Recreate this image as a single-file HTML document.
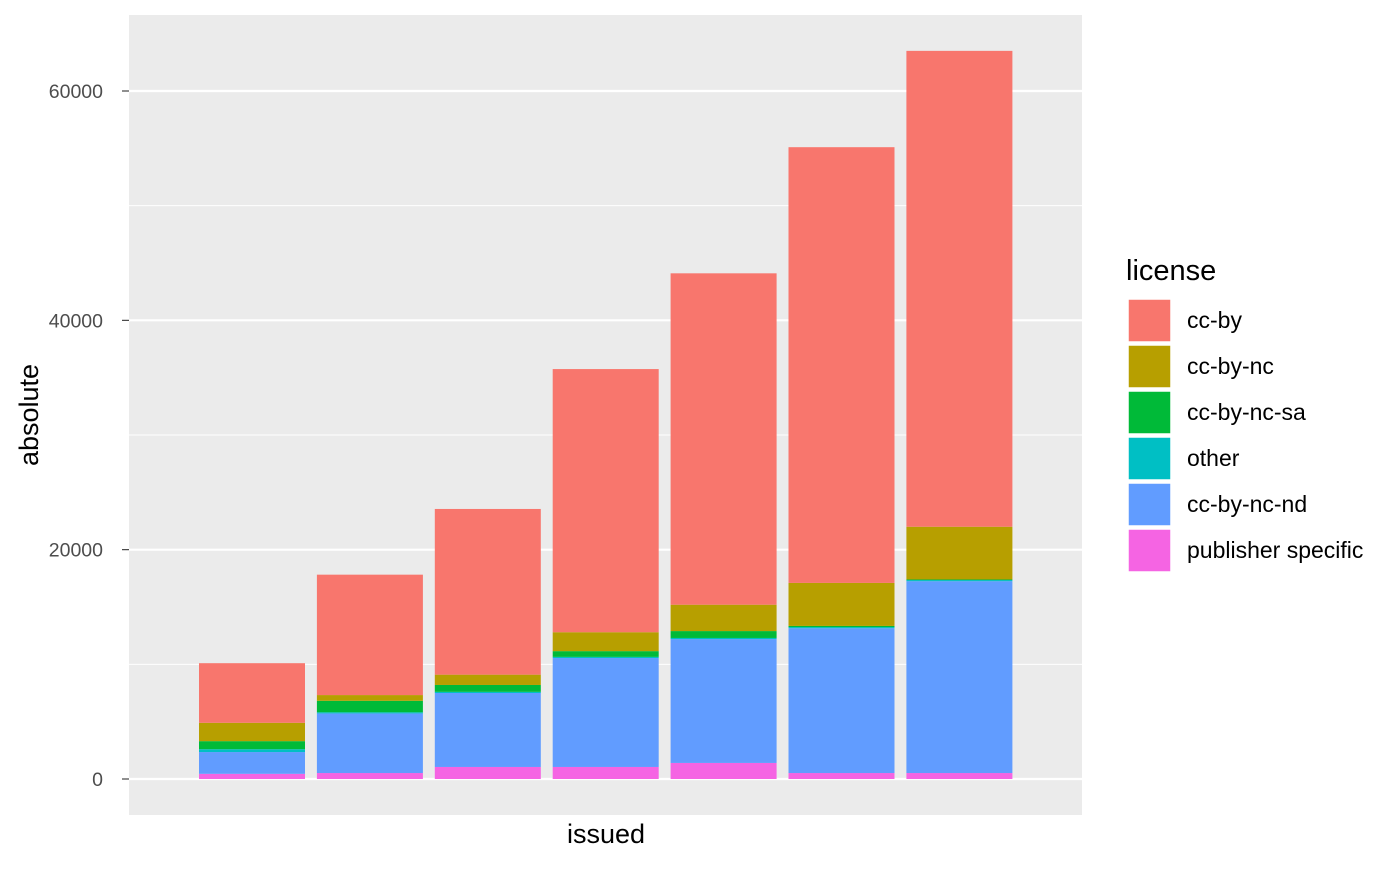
<!DOCTYPE html>
<html><head><meta charset="utf-8"><style>
body{margin:0;background:#fff;font-family:"Liberation Sans",sans-serif}
</style></head><body>
<svg id="c" width="1400" height="866" xmlns="http://www.w3.org/2000/svg">
<rect x="129" y="15" width="953" height="800" fill="#ebebeb"/>
<g id="grid"></g><g id="bars"></g><g id="axes"></g><g id="legend"></g>
</svg>
<script>
const categories=["b1","b2","b3","b4","b5","b6","b7"];
const seriesNames=["publisher specific","cc-by-nc-nd","other","cc-by-nc-sa","cc-by-nc","cc-by"];
const publisherSpecific=[450,520,1050,1050,1400,520,520];
const ccByNcNd=[1900,5200,6450,9500,10800,12630,16730];
const other=[250,100,100,100,100,100,100];
const ccByNcSa=[700,1000,600,500,600,100,50];
const ccByNc=[1600,500,900,1650,2300,3750,4600];
const ccBy=[5200,10500,14450,22950,28900,38000,41500];
const yTicks=[0,20000,40000,60000];
const yMinor=[10000,30000,50000];
const colors=["#f564e3","#619cff","#00bfc4","#00ba38","#b79f00","#f8766d"];
const series=[publisherSpecific,ccByNcNd,other,ccByNcSa,ccByNc,ccBy];
const NS="http://www.w3.org/2000/svg";
const y=v=>779-v*688/60000;
const x=i=>252+i*117.9;
const bw=106;
function mk(t,a,p){const e=document.createElementNS(NS,t);for(const k in a)e.setAttribute(k,a[k]);p.appendChild(e);return e;}
const grid=document.getElementById('grid');
yMinor.forEach(v=>{const l=mk('line',{x1:129,x2:1082,y1:y(v),y2:y(v),stroke:'#fff','stroke-width':1},grid);

});
yTicks.forEach(v=>{const l=mk('line',{x1:129,x2:1082,y1:y(v),y2:y(v),stroke:'#fff','stroke-width':2.2},grid);

});
const bars=document.getElementById('bars');
categories.forEach((c,i)=>{let cum=0;series.forEach((s,j)=>{const v=s[i];const r=mk('rect',{x:x(i)-bw/2,y:y(cum+v),width:bw,height:y(cum)-y(cum+v),fill:colors[j]},bars);

cum+=v;});});
const axes=document.getElementById('axes');
yTicks.forEach(v=>{const l=mk('line',{x1:122,x2:129,y1:y(v),y2:y(v),stroke:'#333','stroke-width':1.1},axes);


const t=mk('text',{x:103,y:y(v)+7,'text-anchor':'end','font-size':19.5,fill:'#4d4d4d'},axes);t.textContent=v;

});
let t=mk('text',{x:606,y:843,'text-anchor':'middle','font-size':27,fill:'#000'},axes);t.textContent='issued';


t=mk('text',{x:38,y:415,'text-anchor':'middle','font-size':27,fill:'#000',transform:'rotate(-90 38 415)'},axes);t.textContent='absolute';


const lg=document.getElementById('legend');
t=mk('text',{x:1126,y:280,'font-size':29,fill:'#000'},lg);t.textContent='license';


for(let k=0;k<6;k++){const j=5-k;const yy=299+k*46;
const r=mk('rect',{x:1128,y:yy,width:43,height:43,fill:colors[j],stroke:'#fff','stroke-width':1.5},lg);


const tt=mk('text',{x:1187,y:yy+29,'font-size':23,fill:'#000'},lg);tt.textContent=seriesNames[j];

}
</script>
</body></html>
